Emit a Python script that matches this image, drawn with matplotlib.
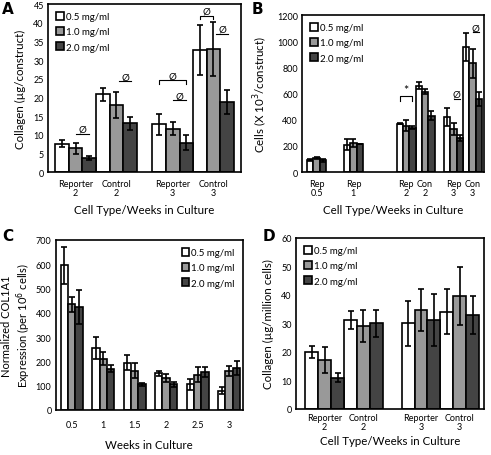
import numpy as np
import matplotlib
matplotlib.use('Agg')
import matplotlib.pyplot as plt
from matplotlib.patches import Patch

plt.rcParams['font.family'] = ['Lato', 'DejaVu Sans']
plt.rcParams['axes.linewidth'] = 1.2

CONC = ['0.5 mg/ml', '1.0 mg/ml', '2.0 mg/ml']
COLORS = ['white', '#999999', '#444444']

# --- A: collagen per construct (ug) ---
a_groups = ['Reporter\n2', 'Control\n2', 'Reporter\n3', 'Control\n3']
a_mean = [[7.6, 6.4, 3.8], [20.8, 18.0, 13.0], [12.8, 11.6, 7.9], [32.8, 33.0, 18.8]]
a_err = [[0.9, 1.5, 0.5], [1.8, 3.4, 1.7], [2.8, 1.8, 2.1], [6.7, 7.2, 3.2]]

# --- B: cells (x10^3 per construct) ---
b_groups = ['Rep\n0.5', 'Rep\n1', 'Rep\n2', 'Con\n2', 'Rep\n3', 'Con\n3']
b_mean = [[95, 105, 90], [210, 222, 215], [370, 355, 340], [660, 615, 430],
          [420, 330, 260], [955, 830, 560]]
b_err = [[8, 6, 12], [40, 28, 0], [5, 40, 12], [25, 20, 35],
         [70, 45, 25], [105, 110, 55]]

# --- C: normalized COL1A1 expression ---
c_weeks = ['0.5', '1', '1.5', '2', '2.5', '3']
c_mean = [[595, 435, 425], [255, 212, 170], [195, 162, 105], [152, 132, 105],
          [105, 145, 157], [80, 160, 172]]
c_err = [[75, 30, 70], [45, 28, 14], [30, 30, 7], [10, 15, 12],
         [22, 30, 20], [16, 22, 28]]

# --- D: collagen per million cells ---
d_groups = ['Reporter\n2', 'Control\n2', 'Reporter\n3', 'Control\n3']
d_mean = [[20.0, 17.2, 11.0], [31.2, 29.0, 30.0], [30.0, 34.8, 31.2], [34.2, 39.6, 33.0]]
d_err = [[2.2, 4.6, 1.7], [3.1, 5.6, 4.6], [8.0, 7.3, 9.0], [8.0, 10.2, 6.6]]

fig = plt.figure(figsize=(4.91, 4.56), dpi=100)
axA = fig.add_axes([0.0978, 0.6206, 0.3931, 0.3684])
axB = fig.add_axes([0.6151, 0.6206, 0.3707, 0.3443])
axC = fig.add_axes([0.1134, 0.0987, 0.3809, 0.3728])
axD = fig.add_axes([0.6029, 0.1009, 0.3829, 0.3750])


def bars(ax, starts, means, errs, w=1.0):
    """draw 3 contiguous bars per group, group i starting at starts[i]"""
    m = np.asarray(means, float); e = np.asarray(errs, float)
    for j in range(3):
        x = np.asarray(starts) + w * (j + 0.5)
        ax.bar(x, m[:, j], width=w, color=COLORS[j], edgecolor='black', linewidth=1.2, zorder=2)
        ax.errorbar(x, m[:, j], yerr=e[:, j], fmt='none', ecolor='black', elinewidth=1.2,
                    capsize=2.2, capthick=1.2, zorder=3)


def centers(starts, j, w=1.0):
    return np.asarray(starts) + w * (j + 0.5)


def style(ax, ylabel, xlabel, xlab_y, fs_lab=8.3, xpad=5):
    ax.tick_params(axis='both', length=0, labelsize=6.5, pad=3)
    ax.tick_params(axis='x', pad=xpad)
    ax.set_ylabel(ylabel, fontsize=fs_lab, labelpad=5)
    ax.set_xlabel(xlabel, fontsize=fs_lab)
    ax.xaxis.set_label_coords(0.5, xlab_y)


def legend(ax, loc):
    h = [Patch(facecolor=c, edgecolor='black', linewidth=1.2) for c in COLORS]
    ax.legend(h, CONC, loc=loc, frameon=False, fontsize=7, handlelength=0.8, handleheight=0.9,
              handletextpad=0.2, labelspacing=0.6, borderaxespad=0.4)


def underline(ax, x1, x2, y, txt='Ø'):
    ax.plot([x1, x2], [y, y], color='black', lw=0.8)
    ax.text((x1 + x2) / 2, y, txt, ha='center', va='bottom', fontsize=7)


def bracket(ax, x1, x2, y, h, txt='Ø', fs=7):
    ax.plot([x1, x1, x2, x2], [y - h, y, y, y - h], color='black', lw=0.8)
    ax.text((x1 + x2) / 2, y, txt, ha='center', va='bottom', fontsize=fs)


# A
sA = [0, 3, 7.17, 10.17]
bars(axA, sA, a_mean, a_err)
axA.set_xlim(-0.54, 13.71)
axA.set_ylim(0, 45)
axA.set_yticks(range(0, 46, 5))
axA.set_xticks([s + 1.5 for s in sA])
axA.set_xticklabels(a_groups, linespacing=0.95)
style(axA, 'Collagen (µg/construct)', 'Cell Type/Weeks in Culture', -0.19)
legend(axA, 'upper left')
underline(axA, centers(sA, 1)[0], centers(sA, 2)[0], 10.2)
underline(axA, centers(sA, 1)[1] + 0.2, centers(sA, 2)[1] + 0.1, 24.3)
bracket(axA, centers(sA, 0)[2], centers(sA, 2)[2], 24.6, 0.9)
underline(axA, centers(sA, 1)[2], centers(sA, 2)[2], 19.2)
bracket(axA, centers(sA, 0)[3], centers(sA, 1)[3], 41.8, 0.9)
underline(axA, centers(sA, 1)[3] + 0.2, centers(sA, 2)[3] + 0.1, 37.0)

# B
sB = [0.8, 6.6, 14.9, 17.9, 22.4, 25.4]
bars(axB, sB, b_mean, b_err)
axB.set_xlim(0, 28.7)
axB.set_ylim(0, 1200)
axB.set_yticks(range(0, 1201, 200))
axB.set_xticks([s + 1.5 for s in sB])
axB.set_xticklabels(b_groups, linespacing=0.95)
style(axB, 'Cells (X 10$^3$/construct)', 'Cell Type/Weeks in Culture', -0.205)
legend(axB, 'upper left')
bracket(axB, centers(sB, 0)[2], centers(sB, 2)[2], 580, 40, '*', fs=9)
underline(axB, centers(sB, 1)[4], centers(sB, 2)[4], 560)
underline(axB, centers(sB, 1)[5], centers(sB, 2)[5], 1070)

# C
w = 0.235
sC = np.arange(len(c_weeks)) - 1.5 * w
bars(axC, sC, c_mean, c_err, w=w)
axC.set_xlim(-0.51, 5.43)
axC.set_ylim(0, 700)
axC.set_yticks(range(0, 701, 100))
axC.set_xticks(np.arange(len(c_weeks)))
axC.set_xticklabels(c_weeks)
style(axC, 'Normalized COL1A1\nExpression (per 10$^6$ cells)', 'Weeks in Culture', -0.17,
      fs_lab=8, xpad=7)
axC.yaxis.set_label_coords(-0.12, 0.5)
axC.xaxis.label.set_fontsize(8.3)
legend(axC, 'upper right')

# D
sD = [0.72, 3.72, 8.18, 11.18]
bars(axD, sD, d_mean, d_err)
axD.set_xlim(0, 14.56)
axD.set_ylim(0, 60)
axD.set_yticks(range(0, 61, 10))
axD.set_xticks([s + 1.5 for s in sD])
axD.set_xticklabels(d_groups, linespacing=0.95)
style(axD, 'Collagen (µg/million cells)', 'Cell Type/Weeks in Culture', -0.15, xpad=3)
legend(axD, 'upper left')

for lab, x, y in [('A', 0.004, 0.995), ('B', 0.512, 0.995), ('C', 0.004, 0.498), ('D', 0.535, 0.498)]:
    fig.text(x, y, lab, fontsize=11, fontweight='bold', ha='left', va='top', family='DejaVu Sans')

fig.savefig('out.png', dpi=100)
